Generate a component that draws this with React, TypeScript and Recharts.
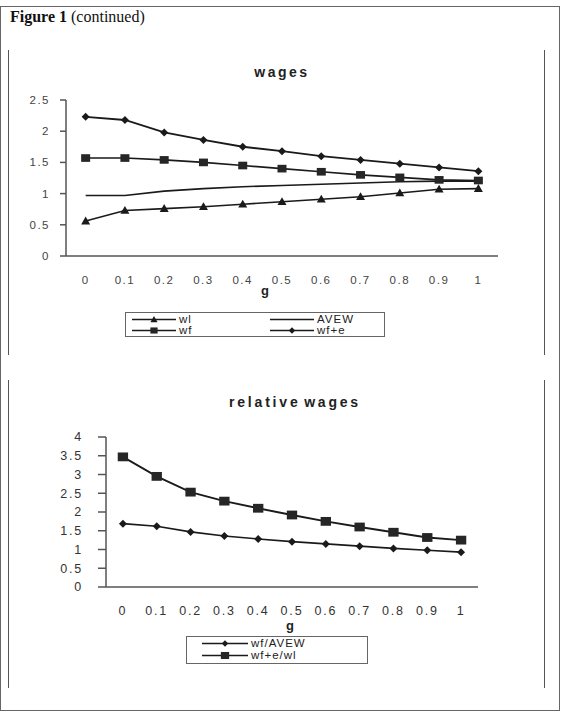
import React from 'react';
import { LineChart, Line, XAxis, YAxis, Label } from 'recharts';

const G_LABELS = ['0', '0.1', '0.2', '0.3', '0.4', '0.5', '0.6', '0.7', '0.8', '0.9', '1'];

// wages panel
const WL = [0.56, 0.73, 0.76, 0.79, 0.83, 0.87, 0.91, 0.95, 1.01, 1.07, 1.08];
const AVEW = [0.97, 0.97, 1.04, 1.08, 1.11, 1.13, 1.15, 1.17, 1.19, 1.2, 1.2];
const WF = [1.57, 1.57, 1.54, 1.5, 1.45, 1.4, 1.35, 1.3, 1.26, 1.22, 1.21];
const WF_E = [2.23, 2.18, 1.98, 1.86, 1.75, 1.68, 1.6, 1.54, 1.48, 1.42, 1.36];

// relative wages panel
const WF_AVEW = [1.69, 1.62, 1.47, 1.36, 1.28, 1.21, 1.15, 1.09, 1.03, 0.98, 0.93];
const WFE_WL = [3.47, 2.95, 2.53, 2.29, 2.1, 1.92, 1.75, 1.6, 1.46, 1.32, 1.25];

const WAGE_TICKS = [0, 0.5, 1, 1.5, 2, 2.5];
const REL_TICKS = [0, 0.5, 1, 1.5, 2, 2.5, 3, 3.5, 4];

const CENTERS = G_LABELS.map((_, i) => i);
const EDGES = [...CENTERS.map((i) => i - 0.5), G_LABELS.length - 0.5];

const wageData = G_LABELS.map((g, i) => ({ x: i, g, wl: WL[i], avew: AVEW[i], wf: WF[i], wfe: WF_E[i] }));
const relData = G_LABELS.map((g, i) => ({ x: i, g, a: WF_AVEW[i], b: WFE_WL[i] }));

const INK = '#1a1a1a';
const TXT = '#444';
const FONT = '"Liberation Sans", Arial, sans-serif';

type Kind = 'triangle' | 'square' | 'diamond' | 'none';

const Marker = ({ cx, cy, kind, s = 1 }: { cx?: number; cy?: number; kind: Kind; s?: number }) => {
  if (cx == null || cy == null || kind === 'none') return null;
  if (kind === 'triangle') {
    const r = 4.5 * s;
    return <polygon points={`${cx},${cy - r} ${cx + r},${cy + r * 0.75} ${cx - r},${cy + r * 0.75}`} fill={INK} />;
  }
  if (kind === 'square') {
    const r = 4.5 * s;
    return <rect x={cx - r} y={cy - r * 0.85} width={r * 2} height={r * 1.7} fill="#262626" />;
  }
  const r = 4 * s;
  return <polygon points={`${cx},${cy - r} ${cx + r},${cy} ${cx},${cy + r} ${cx - r},${cy}`} fill={INK} />;
};

const dotOf = (kind: Kind, s = 1) => (p: any) => <Marker key={`d-${p.index}`} cx={p.cx} cy={p.cy} kind={kind} s={s} />;

const LegendItem = ({ kind, label, lineW, s = 1 }: { kind: Kind; label: string; lineW: number; s?: number }) => (
  <div style={{ display: 'flex', alignItems: 'center', height: 11 }}>
    <svg width={lineW} height={11} style={{ flex: 'none' }}>
      <line x1={0} x2={lineW} y1={5.5} y2={5.5} stroke={INK} strokeWidth={1.5} />
      <Marker cx={lineW / 2} cy={5.5} kind={kind} s={s * 0.8} />
    </svg>
    <span style={{ marginLeft: 3, fontSize: 11.5, letterSpacing: 1, color: '#222', lineHeight: '11px', whiteSpace: 'nowrap' }}>{label}</span>
  </div>
);

const axisTick = { fontSize: 11.5, fill: TXT, fontFamily: FONT, letterSpacing: 1.5 };
const relTick = { fontSize: 12.5, fill: '#333', fontFamily: FONT, letterSpacing: 1.8 };

export default function App() {
  return (
    <div style={{ position: 'absolute', left: 0, top: 0, width: 567, height: 724, background: '#fff', fontFamily: FONT }}>
      {/* outer frame */}
      <div style={{ position: 'absolute', left: 0, top: 6, width: 558, height: 703, border: '1.5px solid #666' }} />
      <div style={{ position: 'absolute', left: 10, top: 8, fontFamily: '"Liberation Serif", serif', fontSize: 16, color: '#111' }}>
        <b>Figure 1</b> (continued)
      </div>

      {/* panel sides */}
      <div style={{ position: 'absolute', left: 8, top: 50, width: 535, height: 305, borderLeft: '1.5px solid #555', borderRight: '1.5px solid #555' }} />
      <div style={{ position: 'absolute', left: 8, top: 380, width: 535, height: 308, borderLeft: '1.5px solid #555', borderRight: '1.5px solid #555' }} />

      {/* wages */}
      <span style={{ position: 'absolute', left: 282, top: 64, transform: 'translateX(-50%)', fontSize: 14, fontWeight: 'bold', letterSpacing: 2.5, color: '#222' }}>wages</span>
      <div style={{ position: 'absolute', left: 0, top: 0 }}>
        <LineChart width={567} height={310} data={wageData} margin={{ top: 100, right: 69, bottom: 9, left: 16 }}>
          <XAxis xAxisId="edge" type="number" dataKey="x" domain={[-0.5, 10.5]} ticks={EDGES} tick={false} tickSize={4} height={5} allowDataOverflow stroke="#555" strokeWidth={1.5} />
          <XAxis xAxisId="lab" type="number" dataKey="x" domain={[-0.5, 10.5]} ticks={CENTERS} tickFormatter={(i: number) => G_LABELS[i]} axisLine={false} tickLine={false} tickMargin={9} height={40} tick={axisTick} interval={0}>
            <Label value="g" position="insideBottom" offset={6} dx={-17} style={{ fontSize: 13, fontWeight: 'bold', fill: '#222', fontFamily: FONT }} />
          </XAxis>
          <YAxis type="number" domain={[0, 2.5]} ticks={WAGE_TICKS} interval={0} width={50} tickSize={6} tickMargin={10} tick={axisTick} stroke="#555" strokeWidth={1.5} />
          <Line xAxisId="lab" dataKey="wl" stroke={INK} strokeWidth={1.6} dot={dotOf('triangle')} isAnimationActive={false} />
          <Line xAxisId="lab" dataKey="avew" stroke={INK} strokeWidth={1.6} dot={false} isAnimationActive={false} />
          <Line xAxisId="lab" dataKey="wf" stroke={INK} strokeWidth={1.6} dot={dotOf('square')} isAnimationActive={false} />
          <Line xAxisId="lab" dataKey="wfe" stroke={INK} strokeWidth={1.9} dot={dotOf('diamond')} isAnimationActive={false} />
        </LineChart>
      </div>
      <div style={{ position: 'absolute', left: 125, top: 312, width: 260, height: 25, border: '1.5px solid #666', boxSizing: 'border-box', display: 'grid', gridTemplateColumns: '138px 110px', gridAutoRows: '11px', alignContent: 'center', paddingLeft: 6 }}>
        <LegendItem kind="triangle" label="wl" lineW={44} />
        <LegendItem kind="none" label="AVEW" lineW={44} />
        <LegendItem kind="square" label="wf" lineW={44} />
        <LegendItem kind="diamond" label="wf+e" lineW={44} />
      </div>

      {/* relative wages */}
      <span style={{ position: 'absolute', left: 295, top: 394, transform: 'translateX(-50%)', whiteSpace: 'nowrap', fontSize: 14, fontWeight: 'bold', letterSpacing: 2.8, wordSpacing: -3, color: '#222' }}>
        relative wages
      </span>
      <div style={{ position: 'absolute', left: 0, top: 380 }}>
        <LineChart width={567} height={260} data={relData} margin={{ top: 57, right: 89, bottom: 8, left: 16 }}>
          <XAxis xAxisId="edge" type="number" dataKey="x" domain={[-0.5, 10.5]} ticks={EDGES} tick={false} tickSize={4} height={5} allowDataOverflow stroke="#555" strokeWidth={1.5} />
          <XAxis xAxisId="lab" type="number" dataKey="x" domain={[-0.5, 10.5]} ticks={CENTERS} tickFormatter={(i: number) => G_LABELS[i]} axisLine={false} tickLine={false} tickMargin={8} height={40} tick={relTick} interval={0}>
            <Label value="g" position="insideBottom" offset={2} dx={-2} style={{ fontSize: 13, fontWeight: 'bold', fill: '#222', fontFamily: FONT }} />
          </XAxis>
          <YAxis type="number" domain={[0, 4]} ticks={REL_TICKS} interval={0} width={90} tickSize={8} tickMargin={15} tick={relTick} stroke="#555" strokeWidth={1.5} />
          <Line xAxisId="lab" dataKey="a" stroke={INK} strokeWidth={1.6} dot={dotOf('diamond')} isAnimationActive={false} />
          <Line xAxisId="lab" dataKey="b" stroke={INK} strokeWidth={1.8} dot={dotOf('square', 1.15)} isAnimationActive={false} />
        </LineChart>
      </div>
      <div style={{ position: 'absolute', left: 186, top: 636, width: 182, height: 28, border: '1.5px solid #666', boxSizing: 'border-box', display: 'grid', gridAutoRows: '12px', alignContent: 'center', paddingLeft: 15 }}>
        <LegendItem kind="diamond" label="wf/AVEW" lineW={46} />
        <LegendItem kind="square" label="wf+e/wl" lineW={46} s={1.15} />
      </div>
    </div>
  );
}
